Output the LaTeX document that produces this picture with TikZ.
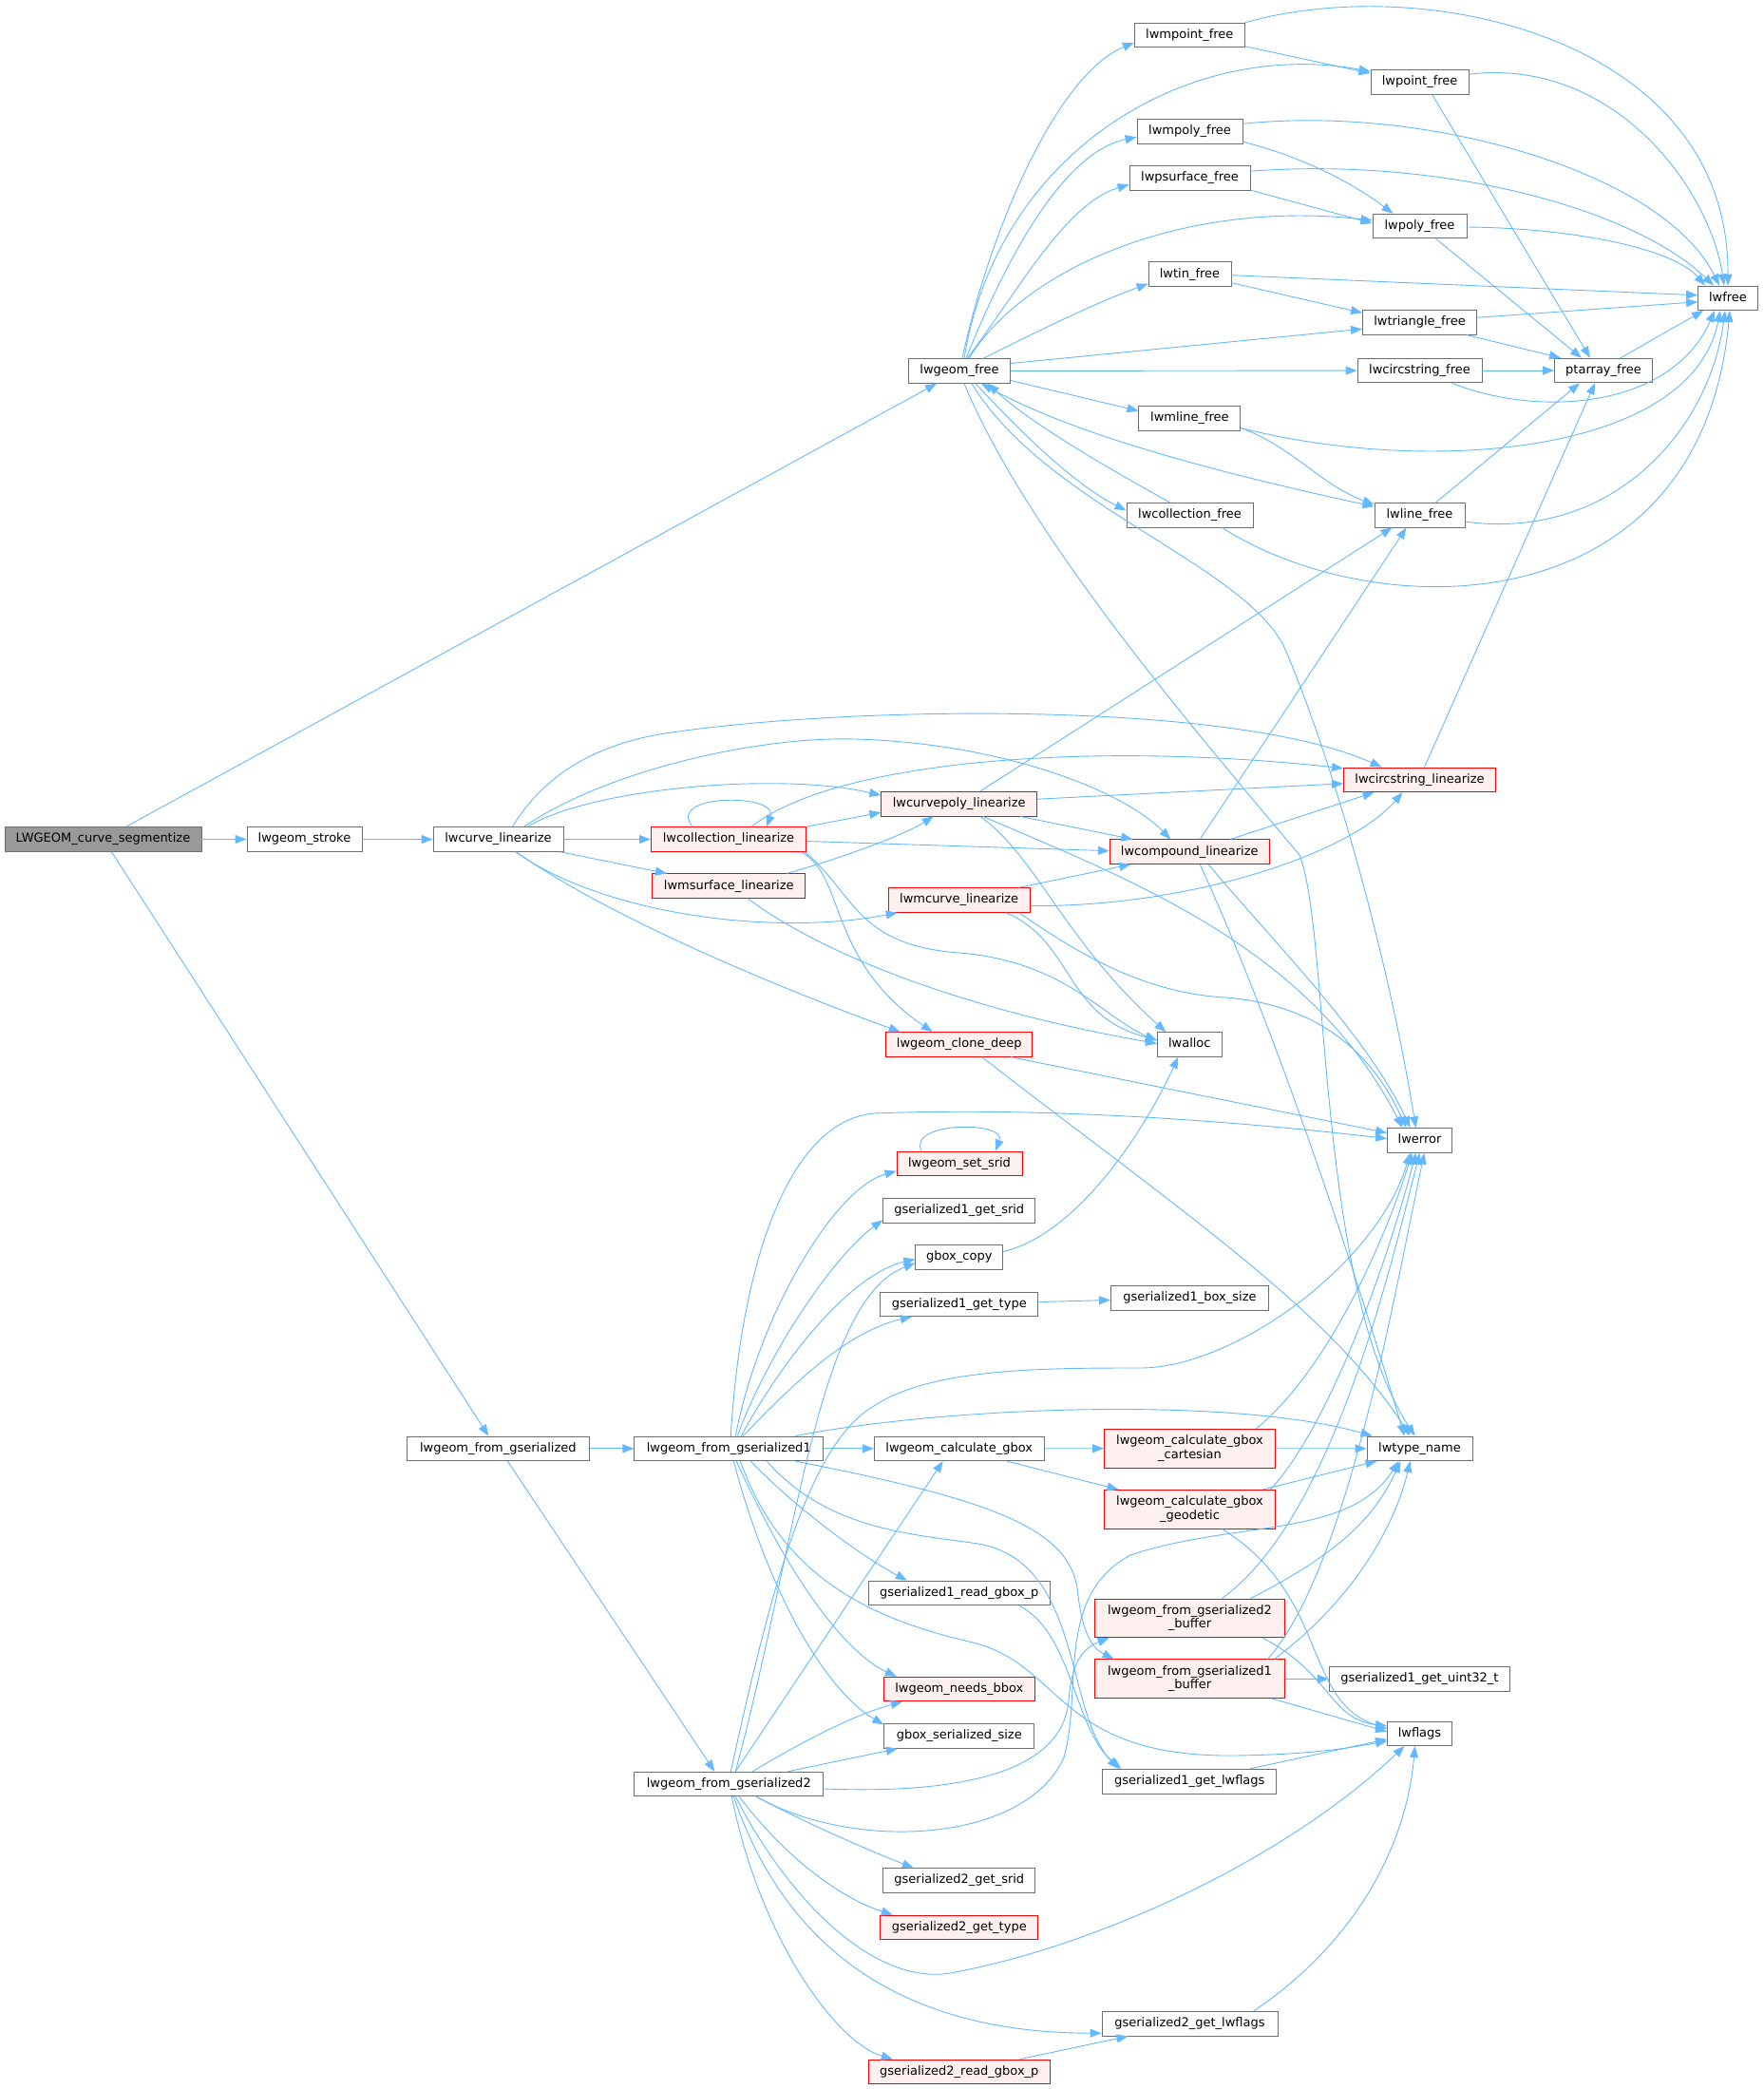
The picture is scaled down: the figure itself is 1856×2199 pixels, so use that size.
\documentclass[tikz,border=0pt]{standalone}
\usepackage{fontspec}
\newfontfamily\dvsfont{DejaVu Sans}
\usetikzlibrary{arrows.meta}
\definecolor{ecol}{RGB}{99,184,255}
\definecolor{gbord}{RGB}{110,110,110}
\definecolor{rbord}{RGB}{255,0,0}
\definecolor{rfill}{RGB}{255,240,240}
\definecolor{rootfill}{RGB}{153,153,153}
\newcommand\gfnt{\dvsfont\fontsize{13pt}{14.3pt}\selectfont}
\begin{document}
\begin{tikzpicture}[x=1pt,y=-1pt,
  bx/.style={draw=gbord, fill=white, line width=0.9pt, inner sep=0pt, font=\gfnt},
  gn/.style={bx, minimum height=25.6pt, text height=9.5pt, text depth=2.8pt},
  rn/.style={gn, draw=rbord, fill=rfill},
  rn2/.style={bx, draw=rbord, fill=rfill, minimum height=40.7pt, align=center},
  call/.style={draw=ecol, line width=0.9pt, -{Triangle[length=12pt,width=9pt]}},
  calltwo/.style={draw=ecol, line width=0.9pt, {Triangle[length=12pt,width=9pt]}-{Triangle[length=12pt,width=9pt]}},
]
\useasboundingbox (0,0) rectangle (1856,2199);

% ---------- nodes ----------
\node[gn, fill=rootfill, minimum width=207pt] (root) at (108.5,883.5) {LWGEOM\_curve\_segmentize};
\node[gn, minimum width=121pt] (stroke) at (320.5,883.5) {lwgeom\_stroke};
\node[gn, minimum width=137pt] (curvelin) at (524.5,883.5) {lwcurve\_linearize};
\node[rn, minimum width=163pt] (colllin) at (767,883.5) {lwcollection\_linearize};
\node[rn, minimum width=161pt] (msurflin) at (767.3,932.7) {lwmsurface\_linearize};
\node[rn, minimum width=164pt] (cpolylin) at (1009.7,846.2) {lwcurvepoly\_linearize};
\node[rn, minimum width=149pt] (mcurvelin) at (1009.7,947.5) {lwmcurve\_linearize};
\node[rn, minimum width=154pt] (clone) at (1009.7,1099.5) {lwgeom\_clone\_deep};
\node[rn, minimum width=168pt] (compound) at (1252.3,896.7) {lwcompound\_linearize};
\node[rn, minimum width=160pt] (circlin) at (1494.5,820.8) {lwcircstring\_linearize};
\node[gn, minimum width=68pt] (lwalloc) at (1252.3,1099.5) {lwalloc};
\node[gn, minimum width=68pt] (lwerror) at (1494.5,1200.5) {lwerror};

\node[gn, minimum width=107pt] (geomfree) at (1010,390.5) {lwgeom\_free};
\node[gn, minimum width=116pt] (mpointfree) at (1252.3,36.8) {lwmpoint\_free};
\node[gn, minimum width=103pt] (pointfree) at (1494.6,86.2) {lwpoint\_free};
\node[gn, minimum width=111pt] (mpolyfree) at (1252.5,138.3) {lwmpoly\_free};
\node[gn, minimum width=127pt] (psurffree) at (1252.5,187.2) {lwpsurface\_free};
\node[gn, minimum width=99pt] (polyfree) at (1494.5,238) {lwpoly\_free};
\node[gn, minimum width=87pt] (tinfree) at (1252.5,288.7) {lwtin\_free};
\node[gn, minimum width=63pt] (lwfree) at (1819,313.8) {lwfree};
\node[gn, minimum width=120pt] (trifree) at (1494.5,339.3) {lwtriangle\_free};
\node[gn, minimum width=131pt] (circfree) at (1494.5,390) {lwcircstring\_free};
\node[gn, minimum width=103pt] (ptarrfree) at (1688,390) {ptarray\_free};
\node[gn, minimum width=107pt] (mlinefree) at (1252.4,440.5) {lwmline\_free};
\node[gn, minimum width=133pt] (collfree) at (1252.5,542.2) {lwcollection\_free};
\node[gn, minimum width=95pt] (linefree) at (1494.5,542.2) {lwline\_free};

\node[gn, minimum width=192pt] (fromgs) at (524.3,1524.8) {lwgeom\_from\_gserialized};
\node[gn, minimum width=199pt] (fromgs1) at (767.3,1524.8) {lwgeom\_from\_gserialized1};
\node[gn, minimum width=199pt] (fromgs2) at (767.3,1878) {lwgeom\_from\_gserialized2};
\node[rn, minimum width=132pt] (setsrid) at (1010,1224.8) {lwgeom\_set\_srid};
\node[gn, minimum width=160pt] (gs1srid) at (1009.8,1274.3) {gserialized1\_get\_srid};
\node[gn, minimum width=92pt] (gboxcopy) at (1009.8,1323.5) {gbox\_copy};
\node[gn, minimum width=166pt] (gs1type) at (1009.8,1372.8) {gserialized1\_get\_type};
\node[gn, minimum width=166pt] (gs1boxsize) at (1252.5,1366.2) {gserialized1\_box\_size};
\node[gn, minimum width=179pt] (calcgbox) at (1009.7,1524.8) {lwgeom\_calculate\_gbox};
\node[rn2, minimum width=180pt] (cart) at (1252.5,1524.7) {lwgeom\_calculate\_gbox\\\_cartesian};
\node[rn2, minimum width=180pt] (geod) at (1252.5,1588.7) {lwgeom\_calculate\_gbox\\\_geodetic};
\node[gn, minimum width=111pt] (lwtypename) at (1494.5,1524.8) {lwtype\_name};
\node[gn, minimum width=191pt] (gs1readgbox) at (1009.8,1676.8) {gserialized1\_read\_gbox\_p};
\node[rn2, minimum width=200pt] (gs2buf) at (1252.5,1703.3) {lwgeom\_from\_gserialized2\\\_buffer};
\node[rn2, minimum width=200pt] (gs1buf) at (1252.5,1767.2) {lwgeom\_from\_gserialized1\\\_buffer};
\node[gn, minimum width=190pt] (uint32) at (1494.4,1767.5) {gserialized1\_get\_uint32\_t};
\node[rn, minimum width=159pt] (needsbbox) at (1009.8,1778) {lwgeom\_needs\_bbox};
\node[gn, minimum width=158pt] (gboxsersize) at (1009.8,1827.5) {gbox\_serialized\_size};
\node[gn, minimum width=68pt] (lwflags) at (1494.5,1824.8) {lwflags};
\node[gn, minimum width=183pt] (gs1lwflags) at (1252.3,1875.2) {gserialized1\_get\_lwflags};
\node[gn, minimum width=160pt] (gs2srid) at (1009.8,1979.5) {gserialized2\_get\_srid};
\node[rn, minimum width=166pt] (gs2type) at (1009.8,2028.8) {gserialized2\_get\_type};
\node[gn, minimum width=185pt] (gs2lwflags) at (1252.5,2130.2) {gserialized2\_get\_lwflags};
\node[rn, minimum width=191pt] (gs2readgbox) at (1009.8,2180.8) {gserialized2\_read\_gbox\_p};

% ---------- edges: root ----------
\draw[call] (root) -- (geomfree);
\draw[call] (root) -- (stroke);
\draw[call] ([xshift=9pt]root.south) -- ([xshift=-10pt]fromgs.north);
\draw[call] (stroke) -- (curvelin);

% ---------- lwcurve_linearize ----------
\draw[call] (curvelin) -- (colllin);
\draw[call] (curvelin) -- (msurflin);
\draw[call] ([xshift=31pt]curvelin.north) .. controls (620,830) and (820,812) .. ([yshift=9pt]cpolylin.west);
\draw[call] ([xshift=27pt]curvelin.north) .. controls (640,810) and (800,775) .. (900,778) .. controls (1050,782) and (1180,830) .. ([xshift=-20pt]compound.north);
\draw[call] ([xshift=15pt]curvelin.north) .. controls (570,820) and (620,785) .. (700,772) .. controls (900,742) and (1300,738) .. ([xshift=-40pt]circlin.north);
\draw[call] ([xshift=18pt]curvelin.south) .. controls (640,965) and (820,985) .. ([xshift=-65pt]mcurvelin.south);
\draw[call] ([xshift=19pt]curvelin.south) .. controls (640,965) and (820,1040) .. ([xshift=-62pt]clone.north);

% ---------- lwcollection_linearize ----------
\draw[call] ([xshift=-38pt]colllin.north) .. controls (700,835) and (820,835) .. ([xshift=40pt]colllin.north);
\draw[call] (colllin.north east) -- ([yshift=-9pt]cpolylin.west);
\draw[call] ([yshift=-2pt]colllin.east) -- ([yshift=1pt]compound.west);
\draw[call] ([xshift=24pt]colllin.north) .. controls (880,800) and (1150,780) .. ([yshift=12pt]circlin.west);
\draw[call] ([xshift=-6pt]colllin.south east) .. controls (890,920) and (870,1010) .. ([xshift=-28pt]clone.north);
\draw[call] ([xshift=-2pt]colllin.south east) .. controls (900,940) and (900,995) .. (1010,1003) .. controls (1120,1012) and (1160,1070) .. ([yshift=4pt]lwalloc.west);

% ---------- lwmsurface_linearize ----------
\draw[call] ([xshift=61pt]msurflin.north) .. controls (880,905) and (950,880) .. ([xshift=-27pt]cpolylin.south);
\draw[call] ([xshift=20pt]msurflin.south) .. controls (860,1000) and (1000,1060) .. ([yshift=1pt]lwalloc.west);

% ---------- lwcurvepoly_linearize ----------
\draw[call] ([yshift=5pt]cpolylin.east) -- ([yshift=-4pt]circlin.west);
\draw[call] ([xshift=-18pt]cpolylin.south east) -- ([xshift=-60pt]compound.north);
\draw[call] ([xshift=22pt]cpolylin.north) -- ([xshift=-29pt]linefree.south);
\draw[call] ([xshift=22pt]cpolylin.south) .. controls (1090,900) and (1120,990) .. ([xshift=-25pt]lwalloc.north);
\draw[call] ([xshift=25pt]cpolylin.south) .. controls (1200,930) and (1380,1000) .. ([xshift=-18pt]lwerror.north);

% ---------- lwcompound_linearize ----------
\draw[call] ([xshift=43pt]compound.north) -- ([xshift=-48pt]circlin.south);
\draw[call] ([xshift=11pt]compound.north) -- ([xshift=-14pt]linefree.south);
\draw[call] ([xshift=20pt]compound.south) .. controls (1330,980) and (1440,1090) .. ([xshift=-10pt]lwerror.north);
\draw[call] ([xshift=11pt]compound.south) .. controls (1350,1100) and (1430,1350) .. ([xshift=-16pt]lwtypename.north);

% ---------- lwmcurve_linearize ----------
\draw[call] ([xshift=63pt]mcurvelin.north) -- ([xshift=-62pt]compound.south);
\draw[call] ([yshift=-6pt]mcurvelin.east) .. controls (1250,955) and (1420,900) .. ([xshift=-18pt]circlin.south);
\draw[call] ([xshift=49pt]mcurvelin.south) .. controls (1130,990) and (1120,1070) .. ([yshift=5pt]lwalloc.west);
\draw[call] ([xshift=63pt]mcurvelin.south) .. controls (1130,1000) and (1200,1045) .. (1290,1050) .. controls (1390,1058) and (1445,1110) .. ([xshift=-14pt]lwerror.north);

% ---------- lwgeom_clone_deep ----------
\draw[call] ([xshift=-23pt]clone.south east) -- ([yshift=8pt]lwerror.west);
\draw[call] ([xshift=24pt]clone.south) .. controls (1250,1280) and (1400,1380) .. ([xshift=-10pt]lwtypename.north);

% ---------- misc ----------
\draw[call] ([xshift=5pt]circlin.north) -- ([xshift=-9pt]ptarrfree.south);
\draw[call] ([yshift=6pt]gboxcopy.east) .. controls (1130,1300) and (1200,1200) .. ([xshift=-12pt]lwalloc.south);

% ---------- lwgeom_free ----------
\draw[call] ([xshift=3pt]geomfree.north) .. controls (1040,250) and (1110,80) .. ([yshift=-8pt]mpointfree.west);
\draw[call] ([xshift=5pt]geomfree.north) .. controls (1050,160) and (1250,40) .. ([yshift=11pt]pointfree.west);
\draw[call] ([xshift=7pt]geomfree.north) .. controls (1060,270) and (1120,160) .. ([yshift=-6pt]mpolyfree.west);
\draw[call] ([xshift=8pt]geomfree.north) .. controls (1070,310) and (1120,215) .. ([yshift=-7pt]psurffree.west);
\draw[call] ([xshift=10pt]geomfree.north) .. controls (1080,280) and (1250,210) .. ([yshift=6pt]polyfree.west);
\draw[call] ([xshift=25pt]geomfree.north) .. controls (1090,350) and (1150,320) .. ([yshift=-10pt]tinfree.west);
\draw[call] ([yshift=8pt]geomfree.east) -- ([yshift=-7pt]trifree.west);
\draw[call] (geomfree) -- (circfree);
\draw[call] ([yshift=-10pt]geomfree.east) -- ([yshift=8pt]mlinefree.west);
\draw[call] ([xshift=17pt]geomfree.south) .. controls (1070,450) and (1130,510) .. ([yshift=5pt]collfree.west);
\draw[call] ([xshift=-21pt]collfree.north) .. controls (1180,500) and (1090,450) .. ([xshift=30pt]geomfree.south);
\draw[calltwo] ([xshift=23pt]geomfree.south) .. controls (1100,440) and (1200,480) .. ([yshift=9pt]linefree.west);
\draw[call] ([xshift=13pt]geomfree.south) .. controls (1100,530) and (1300,590) .. (1350,677) .. controls (1400,790) and (1460,1000) .. ([xshift=-4pt]lwerror.north);
\draw[call] ([xshift=5pt]geomfree.south) .. controls (1080,560) and (1250,760) .. (1368,900) .. controls (1400,980) and (1385,1350) .. ([xshift=-5pt]lwtypename.north);

% ---------- free functions ----------
\draw[call] ([yshift=13pt]mpointfree.east) .. controls (1500,-30) and (1820,40) .. (lwfree.north);
\draw[call] ([yshift=-12pt]mpointfree.east) -- ([yshift=9pt]pointfree.west);
\draw[call] ([yshift=8pt]pointfree.east) .. controls (1700,60) and (1800,200) .. ([xshift=-4pt]lwfree.north);
\draw[call] ([xshift=13pt]pointfree.south) -- ([xshift=-14pt]ptarrfree.north);
\draw[call] ([yshift=8pt]mpolyfree.east) .. controls (1500,110) and (1750,180) .. ([xshift=-9pt]lwfree.north);
\draw[call] ([yshift=-11pt]mpolyfree.east) .. controls (1390,170) and (1440,205) .. ([xshift=-28pt]polyfree.north);
\draw[call] ([yshift=7pt]psurffree.east) .. controls (1520,165) and (1720,220) .. ([xshift=-15pt]lwfree.north);
\draw[call] ([yshift=-13pt]psurffree.east) -- ([yshift=3pt]polyfree.west);
\draw[call] ([yshift=-1pt]polyfree.east) .. controls (1650,240) and (1760,260) .. ([xshift=-24pt]lwfree.north);
\draw[call] ([xshift=17pt]polyfree.south) -- ([xshift=-23pt]ptarrfree.north);
\draw[call] ([yshift=-1pt]tinfree.east) -- ([yshift=3pt]lwfree.west);
\draw[call] ([yshift=-9pt]tinfree.east) -- ([yshift=10pt]trifree.west);
\draw[call] ([yshift=5pt]trifree.east) -- ([yshift=-4pt]lwfree.west);
\draw[call] ([xshift=-11pt]trifree.south east) -- ([xshift=-45pt]ptarrfree.north);
\draw[call] (circfree) -- (ptarrfree);
\draw[call] ([xshift=34pt]circfree.south) .. controls (1620,440) and (1760,430) .. ([xshift=-14pt]lwfree.south);
\draw[call] ([xshift=18pt]ptarrfree.north) -- ([xshift=6pt]lwfree.south west);
\draw[call] ([yshift=-10pt]mlinefree.east) .. controls (1500,500) and (1780,480) .. ([xshift=-8pt]lwfree.south);
\draw[call] ([yshift=-10pt]mlinefree.east) .. controls (1360,470) and (1390,510) .. ([yshift=11pt]linefree.west);
\draw[call] ([xshift=17pt]linefree.north) -- ([xshift=-25pt]ptarrfree.south);
\draw[call] ([yshift=-7pt]linefree.east) .. controls (1700,570) and (1800,450) .. ([xshift=-3pt]lwfree.south);
\draw[call] ([xshift=34pt]collfree.south) .. controls (1450,660) and (1790,660) .. ([xshift=2pt]lwfree.south);

% ---------- lwgeom_from_gserialized ----------
\draw[call] (fromgs) -- (fromgs1);
\draw[call] ([xshift=10pt]fromgs.south) -- ([xshift=-15pt]fromgs2.north);

% ---------- lwgeom_from_gserialized1 ----------
\draw[call] ([xshift=2pt]fromgs1.north) .. controls (780,1330) and (830,1180) .. (920,1172) .. controls (1100,1165) and (1300,1180) .. ([yshift=2pt]lwerror.west);
\draw[call] ([xshift=7pt]fromgs1.north) .. controls (800,1380) and (880,1250) .. ([yshift=-8pt]setsrid.west);
\draw[call] ([xshift=9pt]fromgs1.north) .. controls (810,1420) and (880,1320) .. ([yshift=-10pt]gs1srid.west);
\draw[call] ([xshift=13pt]fromgs1.north) .. controls (830,1420) and (900,1340) .. ([yshift=-2pt]gboxcopy.west);
\draw[call] ([xshift=15pt]fromgs1.north) .. controls (850,1440) and (900,1400) .. ([xshift=-50pt]gs1type.south);
\draw[call] ([xshift=-30pt]fromgs1.north east) .. controls (1000,1480) and (1300,1470) .. ([xshift=-50pt]lwtypename.north);
\draw[call] (fromgs1) -- (calcgbox);
\draw[call] ([xshift=23pt]fromgs1.south) .. controls (840,1590) and (910,1640) .. ([xshift=-55pt]gs1readgbox.north);
\draw[call] ([xshift=8pt]fromgs1.south) .. controls (830,1660) and (890,1740) .. ([xshift=-66pt]needsbbox.north);
\draw[call] ([xshift=5pt]fromgs1.south) .. controls (810,1680) and (870,1780) .. ([yshift=12pt]gboxsersize.west);
\draw[call] ([xshift=-30pt]fromgs1.south east) .. controls (1050,1580) and (1130,1610) .. (1135,1680) .. controls (1140,1720) and (1150,1735) .. ([xshift=-80pt]gs1buf.north);
\draw[call] ([xshift=40pt]fromgs1.south) .. controls (870,1610) and (960,1615) .. (1030,1625) .. controls (1140,1645) and (1120,1800) .. ([xshift=-75pt]gs1lwflags.north);
\draw[call] ([xshift=12pt]fromgs1.south) .. controls (820,1650) and (900,1700) .. (1020,1728) .. controls (1120,1750) and (1110,1850) .. (1300,1848) .. controls (1380,1847) and (1420,1840) .. ([yshift=-8pt]lwflags.west);

% ---------- second level (lower) ----------
\draw[call] ([xshift=-40pt]setsrid.north) .. controls (955,1180) and (1060,1180) .. ([xshift=38pt]setsrid.north);
\draw[call] (gs1type) -- (gs1boxsize);
\draw[call] (calcgbox) -- (cart);
\draw[call] ([xshift=-40pt]calcgbox.south east) -- ([xshift=-75pt]geod.north);
\draw[call] (cart) -- (lwtypename);
\draw[call] ([xshift=70pt]cart.north) .. controls (1400,1440) and (1460,1300) .. ([xshift=-8pt]lwerror.south);
\draw[call] ([xshift=77pt]geod.north) -- ([xshift=-45pt]lwtypename.south);
\draw[call] ([xshift=85pt]geod.north) .. controls (1400,1500) and (1460,1330) .. ([xshift=-4pt]lwerror.south);
\draw[call] ([xshift=34pt]geod.south) .. controls (1400,1680) and (1370,1790) .. ([yshift=5pt]lwflags.west);
\draw[call] ([xshift=34pt]gs2buf.north) .. controls (1400,1600) and (1460,1350) .. (lwerror.south);
\draw[call] ([xshift=64pt]gs2buf.north) .. controls (1420,1630) and (1450,1590) .. ([xshift=-20pt]lwtypename.south);
\draw[call] ([xshift=-24pt]gs2buf.south east) .. controls (1400,1760) and (1400,1810) .. ([yshift=8pt]lwflags.west);
\draw[call] ([xshift=82pt]gs1buf.north) .. controls (1420,1650) and (1470,1350) .. ([xshift=5pt]lwerror.south);
\draw[call] ([xshift=89pt]gs1buf.north) .. controls (1430,1680) and (1470,1600) .. ([xshift=-10pt]lwtypename.south);
\draw[call] (gs1buf) -- (uint32);
\draw[call] ([xshift=-14pt]gs1buf.south east) -- ([yshift=2pt]lwflags.west);
\draw[call] ([xshift=63pt]gs1lwflags.north) -- ([yshift=-6pt]lwflags.west);
\draw[call] ([xshift=63pt]gs1readgbox.south) .. controls (1130,1720) and (1130,1820) .. ([xshift=-72pt]gs1lwflags.north);

% ---------- lwgeom_from_gserialized2 ----------
\draw[call] ([xshift=2pt]fromgs2.north) .. controls (810,1680) and (850,1520) .. (920,1480) .. controls (980,1440) and (1100,1440) .. (1200,1440) .. controls (1300,1440) and (1450,1330) .. ([xshift=-10pt]lwerror.south);
\draw[call] ([xshift=7pt]fromgs2.north) .. controls (840,1620) and (860,1370) .. ([yshift=-6pt]gboxcopy.west);
\draw[call] ([xshift=7pt]fromgs2.north) -- ([xshift=-17pt]calcgbox.south);
\draw[call] ([xshift=25pt]fromgs2.north) .. controls (850,1830) and (900,1805) .. ([xshift=-60pt]needsbbox.south);
\draw[call] ([xshift=62pt]fromgs2.north) -- ([xshift=-65pt]gboxsersize.south);
\draw[call] ([yshift=-5pt]fromgs2.east) .. controls (1050,1890) and (1120,1850) .. (1125,1790) .. controls (1128,1750) and (1140,1735) .. ([xshift=-85pt]gs2buf.south);
\draw[call] ([xshift=29pt]fromgs2.south) .. controls (900,1950) and (1080,1940) .. (1120,1850) .. controls (1140,1780) and (1110,1680) .. (1190,1637) .. controls (1300,1600) and (1420,1620) .. ([xshift=-22pt]lwtypename.south);
\draw[call] ([xshift=29pt]fromgs2.south) .. controls (850,1920) and (920,1950) .. ([xshift=-48pt]gs2srid.north);
\draw[call] ([xshift=11pt]fromgs2.south) .. controls (830,1960) and (890,2000) .. ([xshift=-70pt]gs2type.north);
\draw[call] ([xshift=7pt]fromgs2.south) .. controls (830,2000) and (920,2090) .. (1000,2077) .. controls (1150,2050) and (1350,1960) .. ([xshift=-16pt]lwflags.south);
\draw[call] ([xshift=5pt]fromgs2.south) .. controls (830,2060) and (960,2140) .. ([yshift=-10pt]gs2lwflags.west);
\draw[call] ([xshift=3pt]fromgs2.south) .. controls (800,2040) and (880,2150) .. ([xshift=-70pt]gs2readgbox.north);
\draw[call] ([xshift=64pt]gs2readgbox.north) -- ([xshift=-65pt]gs2lwflags.south);
\draw[call] ([xshift=67pt]gs2lwflags.north) .. controls (1420,2050) and (1480,1950) .. ([xshift=-5pt]lwflags.south);
\end{tikzpicture}
\end{document}
